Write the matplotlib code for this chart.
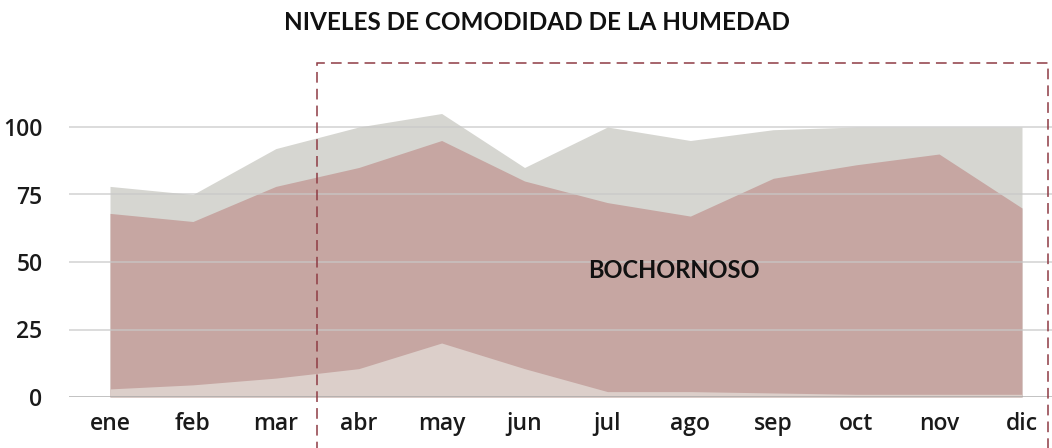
import matplotlib.pyplot as plt
from matplotlib.patches import Rectangle

# monthly humidity comfort bands (% of time)
months = ['ene', 'feb', 'mar', 'abr', 'may', 'jun', 'jul', 'ago', 'sep', 'oct', 'nov', 'dic']
upper_band = [78, 75, 92, 100, 105, 85, 100, 95, 99, 100, 100, 100]
muggy_band = [68, 65, 78, 85, 95, 80, 72, 67, 81, 86, 90, 70]
dry_band = [3, 4.5, 7, 10.5, 20, 10.5, 2, 2, 1.5, 1, 1, 1]
y_ticks = [0, 25, 50, 75, 100]

W, H = 1052, 448
fig = plt.figure(figsize=(W / 100, H / 100), dpi=100)
ax = fig.add_axes([69 / W, (H - 397) / H, 1 - 69 / W, (397 - 59.5) / H])

x = list(range(len(months)))
ax.fill_between(x, 0, upper_band, color='#d6d6d1', lw=0, zorder=1)
ax.fill_between(x, 0, muggy_band, color='#c6a6a2', lw=0, zorder=1.1)
ax.fill_between(x, 0, dry_band, color='#dccfca', lw=0, zorder=1.2)

for yv in y_ticks:
    ax.axhline(yv, color='#a0a0a0' if yv == 0 else '#c8c8c8',
               lw=1.2, alpha=0.75, zorder=2)

# highlighted humid period
box = Rectangle((2.5, -40), 11.31 - 2.5, 123.7 + 40, fill=False,
                edgecolor='#8e3b44', lw=1.1, ls=(0, (7, 4)), clip_on=False, zorder=3)
ax.add_patch(box)

ax.text(6.8, 47, 'BOCHORNOSO', ha='center', va='center', fontsize=17,
        fontweight='bold', family='Lato', color='#111111', zorder=4)

ax.set_xlim(-41 / 82.9, 11 + 30 / 82.9)
ax.set_ylim(0, 125)
ax.set_xticks(x)
ax.set_xticklabels(months)
ax.set_yticks(y_ticks)
ax.tick_params(length=0, labelsize=16.5, colors='#1a1a1a')
ax.tick_params(axis='y', pad=19)
ax.tick_params(axis='x', pad=11)
for lbl in ax.get_xticklabels() + ax.get_yticklabels():
    lbl.set_family('Open Sans')
    lbl.set_fontweight('semibold')
for s in ax.spines.values():
    s.set_visible(False)

fig.text(537 / W, 1 - 22 / H, 'NIVELES DE COMODIDAD DE LA HUMEDAD', ha='center',
         va='center', fontsize=17.5, fontweight='bold', family='Lato', color='#111111')

fig.savefig('out.png', dpi=100)
